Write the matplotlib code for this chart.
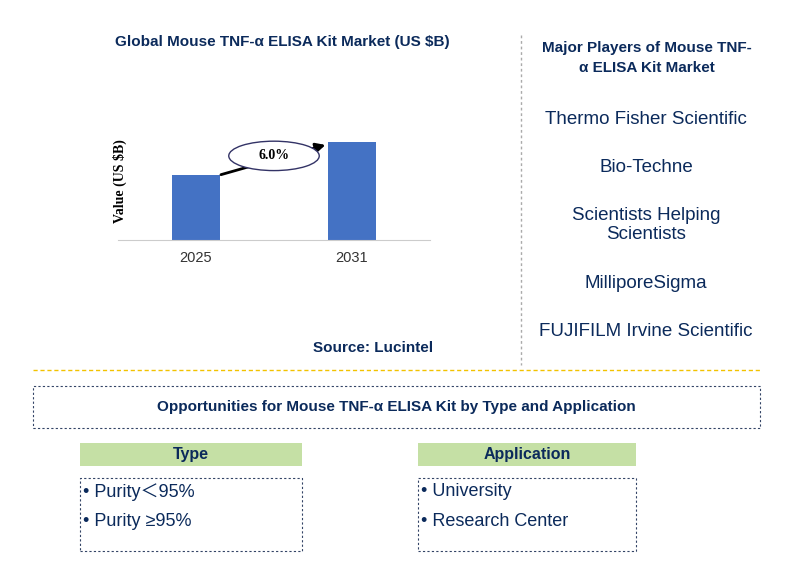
import matplotlib
matplotlib.use("Agg")
import matplotlib.pyplot as plt
from matplotlib.patches import Rectangle, Ellipse, FancyArrowPatch

plt.rcParams["font.family"] = ["Liberation Sans", "Noto Sans CJK JP", "Noto Sans CJK SC"]

years = ["2025", "2031"]
values = [1.0, 1.5]
cagr_label = "6.0%"
players = ["Thermo Fisher Scientific", "Bio-Techne", "Scientists Helping\nScientists",
           "MilliporeSigma", "FUJIFILM Irvine Scientific"]
types = ["Purity\uff1c95%", "Purity \u226595%"]
applications = ["University", "Research Center"]

W, H = 787, 572
fig = plt.figure(figsize=(W/100, H/100), dpi=100)
def fx(x): return x / W
def fy(y): return 1 - y / H
navy = "#0b2a5b"

ax = fig.add_axes([fx(118), fy(240), fx(430) - fx(118), fy(100) - fy(240)])
ax.bar(range(len(years)), values, width=0.31, color="#4472c4")
ax.set_xlim(-0.5, 1.5)
ax.set_ylim(0, max(values) / (98/140))
ax.set_xticks(range(len(years)))
ax.set_xticklabels(years, fontsize=10.5, color="#333333")
ax.tick_params(axis="x", length=0, pad=8)
ax.set_yticks([])
for s in ["top", "right", "left"]:
    ax.spines[s].set_visible(False)
ax.spines["bottom"].set_color("#cccccc")
ax.set_ylabel("Value (US $B)", fontsize=10, fontweight="bold", fontfamily="Liberation Serif")
ax.yaxis.set_label_coords(0.03, 0.42)

arr = FancyArrowPatch((0.16, values[0] * 1.0), (0.83, values[1] * 0.97),
                      arrowstyle="-|>", mutation_scale=14, lw=2, color="black",
                      shrinkA=0, shrinkB=0, zorder=5)
ax.add_patch(arr)
ax.add_patch(Ellipse((0.5, (values[0] + values[1]) / 2 * 1.03), 0.58, 0.45,
                     facecolor="white", edgecolor="#333366", lw=1, zorder=6))
ax.text(0.5, (values[0] + values[1]) / 2 * 1.03, cagr_label, ha="center", va="center",
        fontsize=10, fontweight="bold", fontfamily="Liberation Serif", zorder=7)

fig.text(fx(282), fy(42), "Global Mouse TNF-\u03b1 ELISA Kit Market (US $B)", ha="center",
         va="center", fontsize=11, fontweight="bold", color=navy)
fig.text(fx(373), fy(348), "Source: Lucintel", ha="center", va="center",
         fontsize=11, fontweight="bold", color=navy)

fig.add_artist(plt.Line2D([fx(521), fx(521)], [fy(35), fy(365)], color="#aaaaaa",
                          lw=1, ls=(0, (2, 2))))
fig.text(fx(647), fy(58), "Major Players of Mouse TNF-\n\u03b1 ELISA Kit Market", ha="center",
         va="center", fontsize=11, fontweight="bold", color=navy, linespacing=1.5)
for y, p in zip([120, 167, 225, 284, 331], players):
    fig.text(fx(646), fy(y), p, ha="center", va="center", fontsize=13.5, color=navy,
             linespacing=1.15)

fig.add_artist(plt.Line2D([fx(33), fx(760)], [fy(370), fy(370)], color="#f2c200", lw=1,
                          ls=(0, (3, 2))))

def box(x0, y0, x1, y1, **kw):
    fig.add_artist(Rectangle((fx(x0), fy(y1)), fx(x1) - fx(x0), fy(y0) - fy(y1),
                             transform=fig.transFigure, **kw))

box(33, 386, 760, 428, facecolor="none", edgecolor="#334466", lw=0.8, ls=(0, (2, 2)))
fig.text(fx(396), fy(407), "Opportunities for Mouse TNF-\u03b1 ELISA Kit by Type and Application",
         ha="center", va="center", fontsize=11, fontweight="bold", color=navy)

for x0, x1, title, items in [(80, 302, "Type", types), (418, 636, "Application", applications)]:
    box(x0, 443, x1, 466, facecolor="#c5e0a5", edgecolor="none")
    fig.text(fx((x0 + x1) / 2), fy(454), title, ha="center", va="center",
             fontsize=11.5, fontweight="bold", color=navy)
    box(x0, 478, x1, 551, facecolor="none", edgecolor="#334466", lw=0.8, ls=(0, (2, 2)))
    for y, it in zip([492, 521], items):
        fig.text(fx(x0 + 3), fy(y), "\u2022 " + it, ha="left", va="center",
                 fontsize=13, color=navy)

fig.savefig("out.png", dpi=100)
